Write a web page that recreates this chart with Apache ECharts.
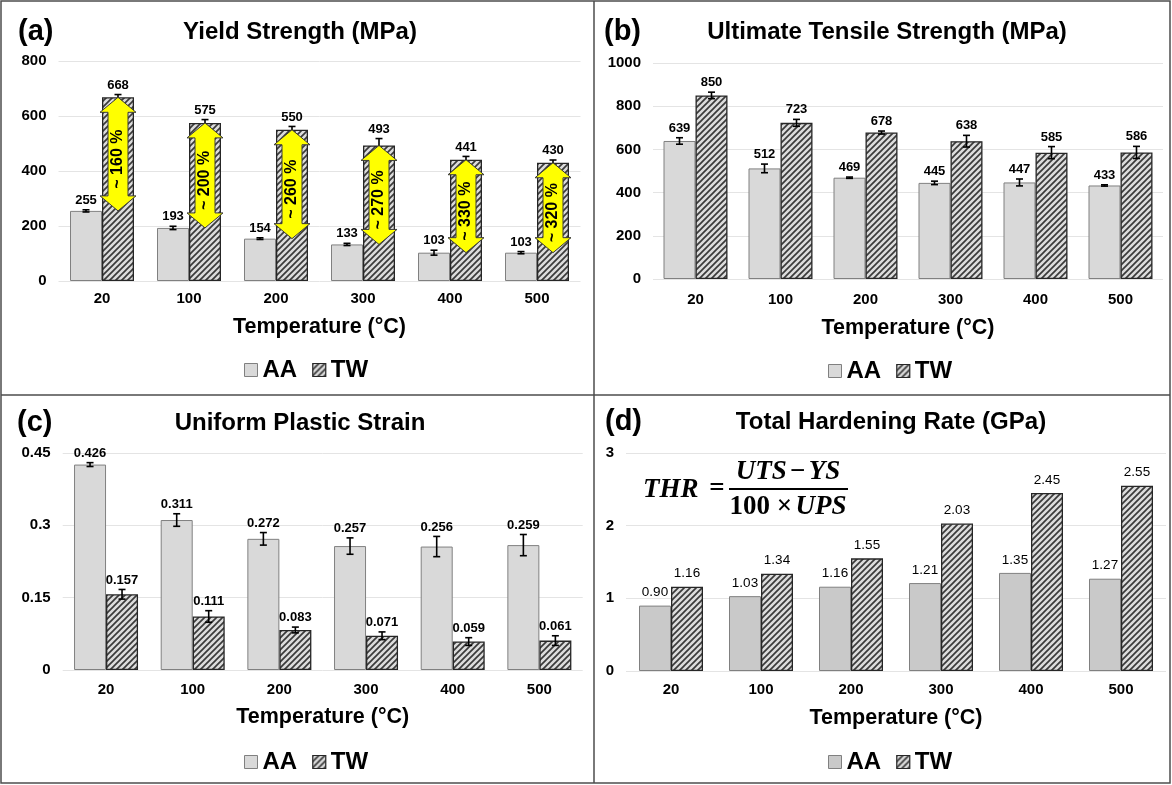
<!DOCTYPE html>
<html><head><meta charset="utf-8">
<script src="https://cdn.jsdelivr.net/npm/echarts@6/dist/echarts.min.js"></script>
<style>html,body{margin:0;padding:0;background:#fff}#c{width:1172px;height:785px}</style>
</head><body><div id="c"></div>
<script>
// ---------------- data ----------------
const categories = ['20', '100', '200', '300', '400', '500'];

const ysAA = [255, 193, 154, 133, 103, 103];
const ysAAErr = [4, 6, 3, 4, 9, 4];
const ysTW = [668, 575, 550, 493, 441, 430];
const ysTWErr = [10, 12, 12, 25, 12, 10];
const ysGain = ['~ 160 %', '~ 200 %', '~ 260 %', '~ 270 %', '~ 330 %', '~ 320 %'];

const utsAA = [639, 512, 469, 445, 447, 433];
const utsAAErr = [15, 20, 3, 8, 16, 3];
const utsTW = [850, 723, 678, 638, 585, 586];
const utsTWErr = [15, 16, 7, 27, 28, 28];

const upsAA = [0.426, 0.311, 0.272, 0.257, 0.256, 0.259];
const upsAAErr = [0.004, 0.013, 0.013, 0.017, 0.021, 0.022];
const upsTW = [0.157, 0.111, 0.083, 0.071, 0.059, 0.061];
const upsTWErr = [0.010, 0.012, 0.006, 0.008, 0.008, 0.010];

const thrAA = [0.90, 1.03, 1.16, 1.21, 1.35, 1.27];
const thrTW = [1.16, 1.34, 1.55, 2.03, 2.45, 2.55];

const yAxisA = {min: 0, max: 800, interval: 200};
const yAxisB = {min: 0, max: 1000, interval: 200};
const yAxisC = {min: 0, max: 0.45, interval: 0.15};
const yAxisD = {min: 0, max: 3, interval: 1};

// ---------------- styles ----------------
const FONT = '"Liberation Sans", Arial, sans-serif';
const BW = 32;
const AA_FILL = '#d9d9d9';
const AA_FILL_D = '#c9c9c9';
const AA_BORDER = '#808080';
const TW_BORDER = '#262626';

function hatch() {
  const s = 6;
  const cv = document.createElement('canvas');
  cv.width = s; cv.height = s;
  const g = cv.getContext('2d');
  g.fillStyle = '#dcdcdc';
  g.fillRect(0, 0, s, s);
  g.strokeStyle = '#3a3a3a';
  g.lineWidth = 1.7;
  g.beginPath();
  g.moveTo(-1, s + 1); g.lineTo(s + 1, -1);
  g.moveTo(-1, 1); g.lineTo(1, -1);
  g.moveTo(s - 1, s + 1); g.lineTo(s + 1, s - 1);
  g.stroke();
  return {image: cv, repeat: 'repeat'};
}
const TW_FILL = hatch();

const grids = [
  {left: 58.5, top: 61, width: 522, height: 220},
  {left: 653, top: 63, width: 510, height: 216},
  {left: 62.7, top: 453, width: 520, height: 217},
  {left: 626, top: 453, width: 540, height: 218}
];
const xLabelMargin = [10, 13, 12, 11];
const xNameGap = [35, 38, 36, 36];

function xAxis(i) {
  return {
    type: 'category', gridIndex: i, data: categories,
    axisLine: {show: false}, axisTick: {show: false},
    axisLabel: {margin: xLabelMargin[i], fontSize: 15, fontWeight: 'bold', color: '#000', fontFamily: FONT},
    name: 'Temperature (°C)', nameLocation: 'middle', nameGap: xNameGap[i],
    nameTextStyle: {fontSize: 21.5, fontWeight: 'bold', color: '#000', fontFamily: FONT}
  };
}
function yAxis(i, ax) {
  return Object.assign({
    type: 'value', gridIndex: i,
    axisLine: {show: false}, axisTick: {show: false},
    axisLabel: {margin: 12, fontSize: 15, fontWeight: 'bold', color: '#000', fontFamily: FONT,
      formatter: v => String(+v.toFixed(2))},
    splitLine: {lineStyle: {color: '#e4e4e4', width: 1}}
  }, ax);
}

function bar(i, name, data, fill, border, bwid, labelOpt) {
  const s = {
    type: 'bar', name: name, xAxisIndex: i, yAxisIndex: i, data: data,
    barWidth: BW, barGap: '0%',
    itemStyle: {color: fill, borderColor: border, borderWidth: bwid},
    emphasis: {disabled: true}
  };
  if (labelOpt) s.label = labelOpt;
  return s;
}

function errSeries(i, vals, errs, side, dec) {
  return {
    type: 'custom', name: 'err' + i + side, xAxisIndex: i, yAxisIndex: i, z: 5,
    data: vals.map((v, k) => [k, v, errs[k]]),
    encode: {x: 0, y: 1},
    silent: true,
    renderItem: function (params, api) {
      const k = api.value(0), v = api.value(1), e = api.value(2);
      const c = api.coord([k, v]);
      const x = c[0] + side * BW / 2;
      const top = api.coord([k, v + e])[1];
      const bot = api.coord([k, v - e])[1];
      const cap = 3.5;
      const st = {stroke: '#000', lineWidth: 1.6};
      return {type: 'group', children: [
        {type: 'line', shape: {x1: x, y1: top, x2: x, y2: bot}, style: st},
        {type: 'line', shape: {x1: x - cap, y1: top, x2: x + cap, y2: top}, style: st},
        {type: 'line', shape: {x1: x - cap, y1: bot, x2: x + cap, y2: bot}, style: st},
        {type: 'text', x: x, y: top - 3, style: {
          text: v.toFixed(dec), align: 'center', verticalAlign: 'bottom',
          font: 'bold 13px ' + FONT, fill: '#000'}}
      ]};
    }
  };
}

function arrowSeries() {
  return {
    type: 'custom', name: 'gain', xAxisIndex: 0, yAxisIndex: 0, z: 6, silent: true,
    data: ysAA.map((v, k) => [k, v, ysTW[k]]),
    encode: {x: 0, y: [1, 2]},
    renderItem: function (params, api) {
      const k = api.value(0), lo = api.value(1), hi = api.value(2);
      const b = api.coord([k, lo]);
      const x = b[0] + BW / 2;
      const yB = b[1];
      const yT = api.coord([k, hi])[1];
      const hw = 18, sw = 10, hl = 15;
      const pts = [[x, yT], [x + hw, yT + hl], [x + sw, yT + hl], [x + sw, yB - hl], [x + hw, yB - hl],
        [x, yB], [x - hw, yB - hl], [x - sw, yB - hl], [x - sw, yT + hl], [x - hw, yT + hl]];
      return {type: 'group', children: [
        {type: 'polygon', shape: {points: pts}, style: {fill: '#ffff00', stroke: '#3a3a3a', lineWidth: 1}},
        {type: 'text', x: x, y: (yT + yB) / 2 + 5, rotation: Math.PI / 2, style: {
          text: ysGain[params.dataIndex], align: 'center', verticalAlign: 'middle',
          font: 'bold 16px ' + FONT, fill: '#000'}}
      ]};
    }
  };
}

function legend(left, top, aaFill) {
  return {
    left: left, top: top, orient: 'horizontal', itemWidth: 13, itemHeight: 13, itemGap: 15,
    icon: 'rect', selectedMode: false, padding: 0,
    textStyle: {fontSize: 24, fontWeight: 'bold', color: '#000', fontFamily: FONT},
    data: [
      {name: 'AA', itemStyle: {color: aaFill, borderColor: AA_BORDER, borderWidth: 1}},
      {name: 'TW', itemStyle: {color: TW_FILL, borderColor: TW_BORDER, borderWidth: 1.2}}
    ]
  };
}

function txt(x, y, s, font, align) {
  return {type: 'text', x: x, y: y, silent: true,
    style: {text: s, font: font, fill: '#000', align: align || 'left', verticalAlign: 'middle'}};
}

const TITLE_FONT = 'bold 24px ' + FONT;
const TAG_FONT = 'bold 29px ' + FONT;
const MATH = '"Liberation Serif", "DejaVu Serif", serif';
const MFS = 27;

const option = {
  backgroundColor: '#fff',
  animation: false,
  grid: grids,
  xAxis: [xAxis(0), xAxis(1), xAxis(2), xAxis(3)],
  yAxis: [yAxis(0, yAxisA), yAxis(1, yAxisB), yAxis(2, yAxisC), yAxis(3, yAxisD)],
  legend: [
    legend(244, 358, AA_FILL), legend(828, 359, AA_FILL),
    legend(244, 750, AA_FILL), legend(828, 750, AA_FILL_D)
  ],
  series: [
    bar(0, 'AA', ysAA, AA_FILL, AA_BORDER, 1),
    bar(0, 'TW', ysTW, TW_FILL, TW_BORDER, 1.3),
    errSeries(0, ysAA, ysAAErr, -1, 0),
    errSeries(0, ysTW, ysTWErr, 1, 0),
    arrowSeries(),

    bar(1, 'AA', utsAA, AA_FILL, AA_BORDER, 1),
    bar(1, 'TW', utsTW, TW_FILL, TW_BORDER, 1.3),
    errSeries(1, utsAA, utsAAErr, -1, 0),
    errSeries(1, utsTW, utsTWErr, 1, 0),

    bar(2, 'AA', upsAA, AA_FILL, AA_BORDER, 1),
    bar(2, 'TW', upsTW, TW_FILL, TW_BORDER, 1.3),
    errSeries(2, upsAA, upsAAErr, -1, 3),
    errSeries(2, upsTW, upsTWErr, 1, 3),

    bar(3, 'AA', thrAA, AA_FILL_D, AA_BORDER, 1, {show: true, position: 'top', distance: 6,
      formatter: p => p.value.toFixed(2), fontSize: 13.5, color: '#000', fontFamily: FONT}),
    bar(3, 'TW', thrTW, TW_FILL, TW_BORDER, 1.3, {show: true, position: 'top', distance: 6,
      formatter: p => p.value.toFixed(2), fontSize: 13.5, color: '#000', fontFamily: FONT})
  ],
  graphic: [
    {type: 'rect', silent: true, shape: {x: 1, y: 1, width: 1169, height: 782},
      style: {fill: 'none', stroke: '#4d4d4d', lineWidth: 1.5}},
    {type: 'line', silent: true, shape: {x1: 594, y1: 1, x2: 594, y2: 783},
      style: {stroke: '#4d4d4d', lineWidth: 1.5}},
    {type: 'line', silent: true, shape: {x1: 1, y1: 395, x2: 1170, y2: 395},
      style: {stroke: '#4d4d4d', lineWidth: 1.5}},

    txt(18, 32, '(a)', TAG_FONT), txt(300, 32, 'Yield Strength (MPa)', TITLE_FONT, 'center'),
    txt(604, 32, '(b)', TAG_FONT), txt(887, 32, 'Ultimate Tensile Strength (MPa)', TITLE_FONT, 'center'),
    txt(17, 423, '(c)', TAG_FONT), txt(300, 423, 'Uniform Plastic Strain', TITLE_FONT, 'center'),
    txt(605, 422, '(d)', TAG_FONT), txt(891, 422, 'Total Hardening Rate (GPa)', TITLE_FONT, 'center'),

    txt(643, 490, 'THR', 'italic bold ' + MFS + 'px ' + MATH),
    txt(717, 489, '=', 'bold ' + MFS + 'px ' + MATH, 'center'),
    {type: 'text', x: 788, y: 472, silent: true, style: {
      text: '{i|UTS} {n|−} {i|YS}', align: 'center', verticalAlign: 'middle', fill: '#000',
      rich: {i: {font: 'italic bold ' + MFS + 'px ' + MATH}, n: {font: 'bold ' + MFS + 'px ' + MATH}}}},
    {type: 'line', silent: true, shape: {x1: 729, y1: 489, x2: 848, y2: 489}, style: {stroke: '#000', lineWidth: 1.8}},
    {type: 'text', x: 788, y: 507, silent: true, style: {
      text: '{n|100 ×} {i|UPS}', align: 'center', verticalAlign: 'middle', fill: '#000',
      rich: {i: {font: 'italic bold ' + MFS + 'px ' + MATH}, n: {font: 'bold ' + MFS + 'px ' + MATH}}}}
  ]
};

const chart = echarts.init(document.getElementById('c'), null, {renderer: 'canvas'});
chart.setOption(option);
</script>
</body></html>
